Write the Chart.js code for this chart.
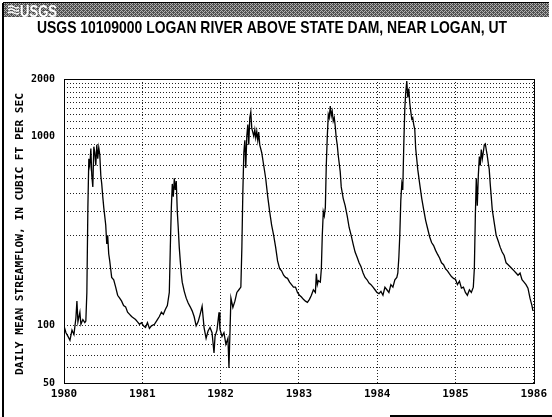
<!DOCTYPE html>
<html><head><meta charset="utf-8">
<script src="https://cdn.jsdelivr.net/npm/chart.js@4"></script>
<style>html,body{margin:0;padding:0;background:#fff;}canvas{display:block;}</style>
</head><body>
<canvas id="c" width="552" height="417"></canvas>
<script>
const titleText = "USGS 10109000 LOGAN RIVER ABOVE STATE DAM, NEAR LOGAN, UT";
const yAxisTitle = "DAILY MEAN STREAMFLOW, IN CUBIC FT PER SEC";
const xTicks = [1980, 1981, 1982, 1983, 1984, 1985, 1986];
const yTicks = [50,60,70,80,90,100,200,300,400,500,600,700,800,900,1000,1100,1200,1300,1400,1500,1600,1700,1800,1900,2000];
const yLabels = [50, 100, 1000, 2000];

const years = [
1980.000,1980.025,1980.051,1980.076,1980.102,1980.127,1980.152,1980.165,1980.178,1980.203,
1980.216,1980.241,1980.266,1980.279,1980.292,1980.305,1980.317,1980.330,1980.343,1980.355,
1980.368,1980.381,1980.393,1980.406,1980.419,1980.431,1980.444,1980.457,1980.470,1980.482,
1980.495,1980.508,1980.520,1980.533,1980.546,1980.558,1980.571,1980.584,1980.596,1980.609,
1980.635,1980.660,1980.685,1980.711,1980.736,1980.761,1980.787,1980.812,1980.838,1980.863,
1980.888,1980.914,1980.939,1980.964,1980.990,
1981.015,1981.041,1981.066,1981.091,1981.117,1981.155,1981.193,1981.218,1981.244,1981.269,
1981.294,1981.320,1981.345,1981.358,1981.371,1981.383,1981.396,1981.409,1981.421,1981.434,
1981.447,1981.459,1981.472,1981.485,1981.497,1981.510,1981.536,1981.561,1981.586,1981.612,
1981.637,1981.662,1981.688,1981.713,1981.739,1981.764,1981.789,1981.815,1981.840,1981.865,
1981.891,1981.916,1981.929,1981.954,1981.980,1981.992,
1982.018,1982.043,1982.068,1982.094,1982.107,1982.119,1982.132,1982.157,1982.183,1982.208,
1982.234,1982.259,1982.272,1982.284,1982.297,1982.310,1982.322,1982.335,1982.348,1982.360,
1982.373,1982.386,1982.398,1982.411,1982.424,1982.437,1982.449,1982.462,1982.475,1982.487,
1982.500,1982.525,1982.551,1982.576,1982.602,1982.627,1982.652,1982.678,1982.703,1982.728,
1982.754,1982.779,1982.805,1982.830,1982.855,1982.881,1982.906,1982.931,1982.957,1982.982,
1983.008,1983.033,1983.058,1983.084,1983.109,1983.135,1983.160,1983.185,1983.211,1983.223,
1983.236,1983.249,1983.274,1983.287,1983.299,1983.312,1983.325,1983.338,1983.350,1983.363,
1983.376,1983.388,1983.401,1983.414,1983.426,1983.439,1983.452,1983.464,1983.477,1983.490,
1983.503,1983.528,1983.541,1983.566,1983.591,1983.617,1983.642,1983.668,1983.693,1983.718,
1983.744,1983.769,1983.794,1983.820,1983.845,1983.871,1983.896,1983.921,1983.947,1983.972,
1983.997,
1984.023,1984.048,1984.074,1984.099,1984.124,1984.150,1984.175,1984.201,1984.226,1984.251,
1984.264,1984.277,1984.289,1984.302,1984.315,1984.327,1984.340,1984.353,1984.365,1984.378,
1984.391,1984.404,1984.416,1984.429,1984.442,1984.454,1984.467,1984.480,1984.492,1984.505,
1984.518,1984.543,1984.569,1984.594,1984.619,1984.645,1984.670,1984.695,1984.721,1984.746,
1984.772,1984.797,1984.822,1984.848,1984.873,1984.898,1984.924,1984.949,1984.975,1985.000,
1985.025,1985.051,1985.076,1985.102,1985.127,1985.152,1985.178,1985.203,1985.228,1985.241,
1985.254,1985.266,1985.279,1985.292,1985.305,1985.317,1985.330,1985.343,1985.355,1985.368,
1985.381,1985.393,1985.406,1985.419,1985.431,1985.444,1985.457,1985.470,1985.495,1985.520,
1985.546,1985.571,1985.596,1985.622,1985.647,1985.673,1985.698,1985.723,1985.749,1985.774,
1985.799,1985.825,1985.850,1985.876,1985.901,1985.926,1985.952,1985.977,1985.990
];

const flow = [
100,92,88,84,95,90,110,135,105,118,
102,108,104,106,150,420,760,700,860,620,
540,880,820,700,900,760,870,800,620,560,
480,420,380,340,270,300,240,220,200,180,
175,160,145,140,135,128,126,118,115,112,
110,108,105,102,104,
100,98,104,97,100,102,108,112,118,115,
122,128,150,260,420,560,480,600,520,580,
400,330,260,220,190,170,152,140,132,126,
120,112,100,105,115,127,98,86,94,98,
92,72,88,95,118,96,
88,92,80,86,60,90,140,125,135,150,
155,160,260,500,820,950,680,1000,1150,900,
1250,1340,1100,1050,1000,1080,980,1060,950,1050,
900,820,700,600,480,400,340,300,260,220,
200,195,185,180,178,170,165,160,160,150,
145,142,138,135,133,138,145,155,150,188,
165,173,170,200,300,400,380,420,700,1000,
1300,1250,1440,1280,1350,1200,1250,1130,980,900,
790,650,540,470,430,380,330,300,270,245,
230,215,205,190,180,175,168,165,160,155,
150,
148,152,145,160,155,150,165,160,175,180,
190,230,300,460,560,520,900,1400,1700,1950,
1600,1780,1500,1350,1230,1250,1150,1090,860,760,
670,560,470,410,360,325,295,275,265,250,
238,228,215,210,200,195,188,182,178,176,
165,172,158,160,150,145,155,150,160,200,
380,600,430,620,780,700,850,760,820,900,
910,850,790,720,670,560,480,410,350,300,
280,260,245,235,215,210,205,200,195,190,
185,190,175,170,165,158,140,128,120
];

const points = years.map((x, i) => ({ x: x, y: flow[i] }));

function makeDither(ctx) {
  const p = document.createElement('canvas');
  p.width = 4; p.height = 4;
  const g = p.getContext('2d');
  g.fillStyle = '#b0b0b0';
  g.fillRect(0, 0, 4, 4);
  g.fillStyle = '#505050';
  const dots = [[0,0],[2,0],[1,1],[3,1],[0,2],[2,2],[1,3],[3,3],[1,0],[3,2]];
  dots.forEach(d => g.fillRect(d[0], d[1], 1, 1));
  return ctx.createPattern(p, 'repeat');
}

const decor = {
  id: 'decor',
  beforeDraw(chart) {
    const c = chart.ctx;
    c.save();
    c.fillStyle = '#fff';
    c.fillRect(0, 0, chart.width, chart.height);
    c.restore();
  },
  afterDraw(chart) {
    const c = chart.ctx;
    const a = chart.chartArea;
    c.save();
    // plot frame
    c.strokeStyle = '#000';
    c.lineWidth = 1;
    c.setLineDash([]);
    c.strokeRect(Math.round(a.left) + 0.5, Math.round(a.top) + 0.5, Math.round(a.right - a.left), Math.round(a.bottom - a.top));
    // header band
    c.fillStyle = makeDither(c);
    c.fillRect(3, 3, 546, 14);
    // logo icon
    c.strokeStyle = '#fff';
    c.lineWidth = 1.5;
    for (let k = 0; k < 3; k++) {
      c.beginPath();
      c.moveTo(8, 7 + k * 3);
      c.quadraticCurveTo(11, 5 + k * 3, 14, 7 + k * 3);
      c.quadraticCurveTo(17, 9 + k * 3, 19, 7 + k * 3);
      c.stroke();
    }
    // logo text
    c.fillStyle = '#fff';
    c.font = 'bold 16px "Liberation Sans Narrow", "Liberation Sans", Arial, sans-serif';
    c.textBaseline = 'alphabetic';
    let w = c.measureText('USGS').width;
    c.save();
    c.translate(20, 16.5);
    c.scale(37 / w, 1);
    c.fillText('USGS', 0, 0);
    c.restore();
    // title
    c.fillStyle = '#000';
    c.font = 'bold 17px "Liberation Sans Narrow", "Liberation Sans", Arial, sans-serif';
    w = c.measureText(titleText).width;
    c.save();
    c.translate(37, 33);
    c.scale(470 / w, 1);
    c.fillText(titleText, 0, 0);
    c.restore();
    // y axis title
    c.font = 'bold 10px "DejaVu Sans Mono", monospace';
    w = c.measureText(yAxisTitle).width;
    c.save();
    c.translate(23, 234);
    c.rotate(-Math.PI / 2);
    c.scale(282 / w, 1);
    c.textAlign = 'center';
    c.fillText(yAxisTitle, 0, 0);
    c.restore();
    // page frame lines
    c.fillStyle = '#000';
    c.fillRect(2, 3, 2, 414);
    c.fillRect(3, 2, 546, 1);
    c.fillRect(390, 415, 162, 2);
    c.restore();
  }
};

const tickFont = { family: '"DejaVu Sans Mono", monospace', size: 11, weight: 'bold' };

new Chart(document.getElementById('c'), {
  type: 'line',
  data: {
    datasets: [{
      data: points,
      borderColor: '#000',
      borderWidth: 1.3,
      pointRadius: 0,
      tension: 0,
      fill: false
    }]
  },
  options: {
    responsive: false,
    animation: false,
    devicePixelRatio: 1,
    layout: { padding: { left: 0, top: 79, right: 16, bottom: 0 } },
    plugins: { legend: { display: false }, tooltip: { enabled: false }, title: { display: false } },
    scales: {
      x: {
        type: 'linear',
        min: 1980, max: 1986,
        afterBuildTicks: s => { s.ticks = xTicks.map(v => ({ value: v })); },
        afterFit: s => { s.height = 34; },
        grid: { color: '#222', lineWidth: 1, drawTicks: false },
        border: { display: false, dash: [1, 2] },
        ticks: { padding: 5, color: '#000', font: tickFont, maxRotation: 0, autoSkip: false, callback: v => String(v) }
      },
      y: {
        type: 'logarithmic',
        min: 50, max: 2000,
        afterBuildTicks: s => { s.ticks = yTicks.map(v => ({ value: v })); },
        afterFit: s => { s.width = 64; },
        grid: { color: '#222', lineWidth: 1, drawTicks: false },
        border: { display: false, dash: [1, 2] },
        ticks: { padding: 9, color: '#000', font: { family: '"DejaVu Sans Mono", monospace', size: 10, weight: 'bold' }, autoSkip: false,
          callback: v => (yLabels.includes(v) ? String(v) : '') }
      }
    }
  },
  plugins: [decor]
});
</script>
</body></html>
